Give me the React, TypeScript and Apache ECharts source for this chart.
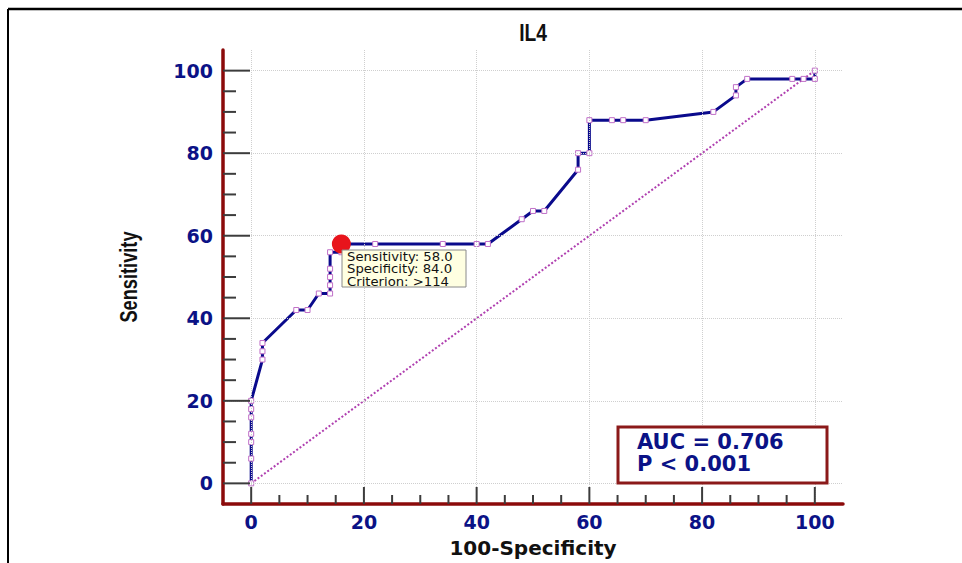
import React, { useEffect, useRef } from "react";
import * as echarts from "echarts";

const rocX = [0, 0, 0, 0, 0, 0, 0, 2, 2, 2, 8, 10, 12, 14, 14, 14, 14, 14, 16, 16, 22, 34, 40, 42, 48, 50, 52, 58, 58, 60, 60, 64, 66, 70, 82, 86, 86, 88, 96, 98, 100, 100];
const rocY = [0, 6, 10, 12, 16, 18, 20, 30, 32, 34, 42, 42, 46, 46, 48, 50, 52, 56, 56, 58, 58, 58, 58, 58, 64, 66, 66, 76, 80, 80, 88, 88, 88, 88, 90, 94, 96, 98, 98, 98, 98, 100];
const diagX = [0, 100];
const diagY = [0, 100];
const cutoff = [16, 58];
const majorTicks = [0, 20, 40, 60, 80, 100];
const minorTicks = [5, 10, 15, 25, 30, 35, 45, 50, 55, 65, 70, 75, 85, 90, 95];
const tipLines = ["Sensitivity: 58.0", "Specificity: 84.0", "Criterion: >114"];
const aucLines = ["AUC = 0.706", "P < 0.001"];
const titleText = "IL4";
const xName = "100-Specificity";
const yName = "Sensitivity";

const NAVY = "#0b1286";
const AXIS_RED = "#8b0a0a";
const TICK = "#3c3c3c";
const WIDE = "'DejaVu Sans', Verdana, sans-serif";
const ARIAL = "'Liberation Sans', Arial, sans-serif";
const AXIS_MIN = -5;
const AXIS_MAX = 105;

export default function App() {
  const ref = useRef<HTMLDivElement>(null);
  useEffect(() => {
    if (!ref.current) return;
    const chart = echarts.init(ref.current, null, { renderer: "svg" });
    const labelStyle = { color: NAVY, fontWeight: "bold" as const, fontSize: 19, fontFamily: WIDE };
    const mainAxis = (dir: "x" | "y") => ({
      type: "value",
      min: AXIS_MIN,
      max: AXIS_MAX,
      position: dir === "x" ? "bottom" : "left",
      axisLine: { show: true, onZero: false, lineStyle: { color: AXIS_RED, width: 3.5 } },
      axisTick: { show: false, customValues: majorTicks },
      axisLabel: { show: true, customValues: majorTicks, margin: dir === "x" ? 8 : 10, ...labelStyle },
      splitLine: { show: true, lineStyle: { color: "#cfcfcf", type: "dotted", width: 1 } },
      z: 4,
    });
    const allTicks = [...majorTicks, ...minorTicks];
    const nMajor = majorTicks.length;
    chart.setOption({
      animation: false,
      backgroundColor: "#ffffff",
      grid: { left: 223, right: 119, top: 50, bottom: 59, containLabel: false },
      xAxis: mainAxis("x"),
      yAxis: mainAxis("y"),
      series: [
        {
          type: "custom",
          name: "ticks",
          data: allTicks.map((v) => [v, AXIS_MIN]),
          silent: true,
          clip: false,
          z: 6,
          renderItem: (params: any, api: any) => {
            const v = api.value(0);
            const isMajor = params.dataIndex < nMajor;
            const px = api.coord([v, AXIS_MIN]);
            const py = api.coord([AXIS_MIN, v]);
            const xl = isMajor ? 17 : 9;
            const yl = isMajor ? 27 : 13;
            return {
              type: "group",
              children: [
                {
                  type: "rect",
                  shape: { x: px[0] - 1, y: px[1] - xl, width: 2, height: xl },
                  style: { fill: TICK },
                },
                {
                  type: "rect",
                  shape: { x: py[0], y: py[1] - 1, width: yl, height: 2 },
                  style: { fill: TICK },
                },
              ],
            };
          },
        },
        {
          type: "line",
          data: diagX.map((x, i) => [x, diagY[i]]),
          showSymbol: false,
          symbol: "none",
          lineStyle: { color: "#b040b0", width: 2, type: "dotted" },
          z: 2,
        },
        {
          type: "line",
          data: rocX.map((x, i) => [x, rocY[i]]),
          symbol: "rect",
          symbolSize: 5,
          showAllSymbol: true,
          lineStyle: { color: "#0a0a8c", width: 3 },
          itemStyle: { color: "#ffffff", borderColor: "#c070c8", borderWidth: 1 },
          z: 3,
        },
        {
          type: "scatter",
          data: [cutoff],
          symbol: "circle",
          symbolSize: 19,
          itemStyle: { color: "#e8141c", opacity: 1 },
          z: 5,
        },
      ],
      graphic: [
        { type: "line", shape: { x1: 8, y1: 9, x2: 962, y2: 9 }, style: { stroke: "#000", lineWidth: 2.5 } },
        { type: "line", shape: { x1: 8, y1: 9, x2: 8, y2: 563 }, style: { stroke: "#000", lineWidth: 2 } },
        {
          type: "text",
          x: 533,
          y: 33,
          scaleX: 0.8,
          style: { text: titleText, fill: "#111", fontSize: 24, fontWeight: "bold", fontFamily: ARIAL, align: "center", verticalAlign: "middle" },
        },
        {
          type: "text",
          x: 129,
          y: 277,
          rotation: Math.PI / 2,
          scaleX: 0.76,
          style: { text: yName, fill: "#111", fontSize: 24, fontWeight: "bold", fontFamily: ARIAL, align: "center", verticalAlign: "middle" },
        },
        {
          type: "text",
          x: 533,
          y: 548,
          style: { text: xName, fill: "#111", fontSize: 20, fontWeight: "bold", fontFamily: WIDE, align: "center", verticalAlign: "middle" },
        },
        {
          type: "rect",
          shape: { x: 342, y: 250, width: 124, height: 37 },
          style: { fill: "#ffffe1", stroke: "#8a8a8a", lineWidth: 1 },
          z: 10,
        },
        ...tipLines.map((t, i) => ({
          type: "text",
          x: 347,
          y: 256.5 + i * 12.4,
          scaleX: 1.1,
          style: { text: t, fill: "#111", fontSize: 12, lineHeight: 12, fontFamily: WIDE, verticalAlign: "middle" },
          z: 11,
        })),
        {
          type: "rect",
          shape: { x: 618, y: 427, width: 209, height: 56 },
          style: { fill: "#ffffff", stroke: "#8b1a1a", lineWidth: 3 },
          z: 10,
        },
        ...aucLines.map((t, i) => ({
          type: "text",
          x: 637,
          y: 442 + i * 22,
          style: { text: t, fill: NAVY, fontSize: 21, fontWeight: "bold", fontFamily: WIDE, verticalAlign: "middle" },
          z: 11,
        })),
      ],
    });
    return () => chart.dispose();
  }, []);
  return <div ref={ref} style={{ position: "fixed", left: 0, top: 0, width: 962, height: 563 }} />;
}
